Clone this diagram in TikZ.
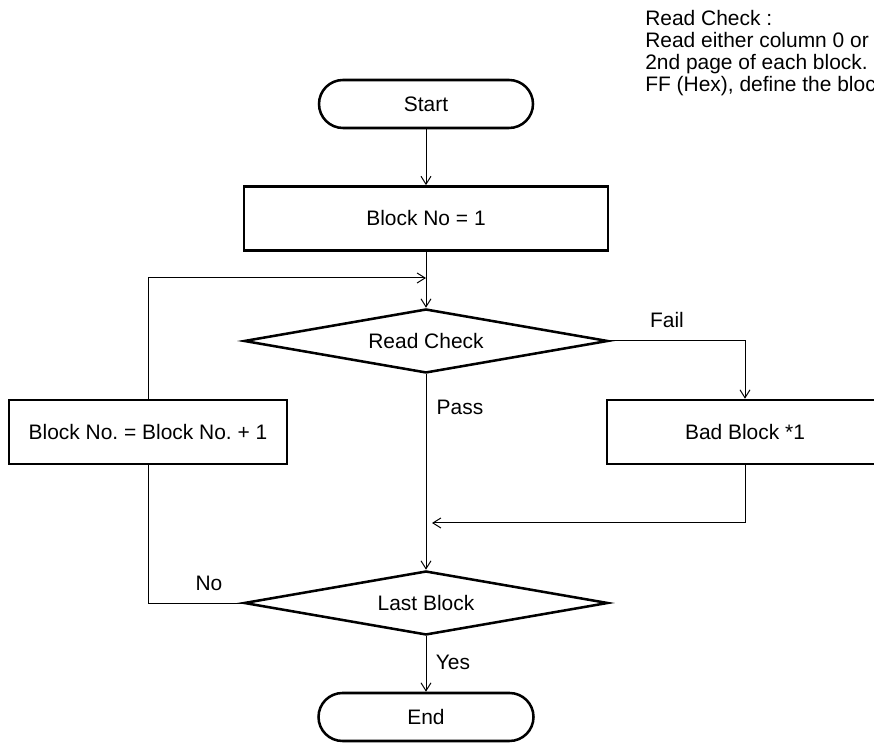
\documentclass[tikz,border=0pt]{standalone}
\usepackage{fontspec}
\setmainfont{Liberation Sans}
\usetikzlibrary{shapes.geometric,arrows.meta}
\frenchspacing
\begin{document}
\begin{tikzpicture}[
    font=\fontsize{14.9pt}{15.6pt}\selectfont,
    shapeline/.style={draw, line width=1.8pt, inner sep=0pt},
    procbox/.style={shapeline, rectangle, minimum height=1.6cm},
    decision/.style={shapeline, diamond, shape aspect=5.6, minimum width=9.1cm, minimum height=1.6cm},
    terminal/.style={shapeline, rectangle, rounded corners=0.6cm, minimum width=5.35cm, minimum height=1.2cm},
    conn/.style={line width=0.7pt},
    flow/.style={conn, -{Straight Barb[length=2mm,width=2.5mm]}},
    lbl/.style={inner sep=0pt}
]
    \useasboundingbox (0,0) rectangle (21.85,18.6);
    \clip (0,0) rectangle (21.85,18.6);
    % note at the top right, cut by the page edge
    \node[anchor=north west, align=left, inner sep=0pt] (note) at (16.125,18.35)
        {Read Check :\\Read either column 0 or\\2nd page of each block.\\FF (Hex), define the bloc};
    % flow chart
    \node[terminal] (start) at (10.65,16.0) {Start};
    \node[procbox, minimum width=9.1cm] (blk1) at (10.65,13.14) {Block No = 1};
    \node[decision] (read) at (10.65,10.075) {Read Check};
    \node[procbox, minimum width=6.9cm] (bad) at (18.625,7.8) {Bad Block *1};
    \node[procbox, minimum width=6.95cm] (inc) at (3.7,7.8) {Block No. = Block No. + 1};
    \node[decision] (last) at (10.65,3.525) {Last Block};
    \node[terminal, minimum width=5.375cm] (stop) at (10.65,0.675) {End};
    \coordinate (loopin) at (10.65,11.65);
    \coordinate (retin) at (10.8,5.525);
    % connectors
    \draw[flow] (start) -- (blk1);
    \draw[flow] (blk1) -- (read);
    \draw[flow] (inc.north) |- (loopin);
    \draw[flow] (read.east) -| (bad.north);
    \draw[flow] (read) -- (last);
    \draw[flow] (bad.south) |- (retin);
    \draw[conn] (last.west) -| (inc.south);
    \draw[flow] (last) -- (stop);
    % branch labels
    \node[lbl] (fail) at (16.675,10.6) {Fail};
    \node[lbl] (pass) at (11.5,8.425) {Pass};
    \node[lbl] (no) at (5.225,4.025) {No};
    \node[lbl] (yes) at (11.325,2.05) {Yes};
\end{tikzpicture}
\end{document}
